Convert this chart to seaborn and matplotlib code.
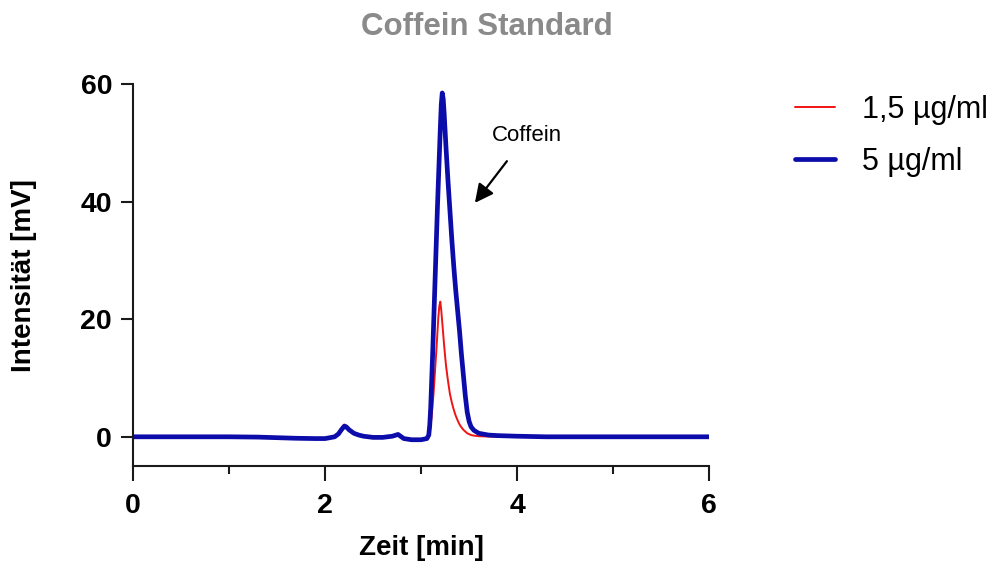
import matplotlib
matplotlib.use("Agg")
import matplotlib.pyplot as plt
import seaborn as sns
import pandas as pd

# Retention time grid [min]
zeit = [0.0, 0.5, 1.0, 1.3, 1.5, 1.7, 1.9, 2.0, 2.1, 2.14, 2.17, 2.2, 2.22, 2.25, 2.3,
        2.35, 2.4, 2.5, 2.6, 2.7, 2.76, 2.82, 2.9, 3.0, 3.06,
        3.08, 3.09, 3.1, 3.11, 3.12, 3.13, 3.14, 3.15, 3.16, 3.17, 3.18, 3.19, 3.2,
        3.21, 3.22, 3.23, 3.24, 3.25, 3.26,
        3.28, 3.3, 3.32, 3.34, 3.36, 3.38, 3.4, 3.42, 3.44, 3.46, 3.48, 3.5, 3.52,
        3.55, 3.6,
        3.7, 3.8, 4.0, 4.3, 5.0, 6.0]

# 1,5 µg/ml signal [mV]
int_15 = [0.0, 0.0, 0.0, -0.05, -0.15, -0.25, -0.3, -0.3, 0.0, 0.6, 1.4, 2.1, 1.9, 1.4, 0.7,
          0.3, 0.1, -0.1, -0.1, 0.1, 0.5, -0.3, -0.5, -0.5, -0.3,
          0.2, 0.8, 2.0, 3.5, 5.5, 7.5, 10.0, 12.5, 15.0, 17.8, 20.5, 22.3, 23.0,
          21.5, 19.5, 17.5, 15.5, 13.7, 12.0,
          9.5, 7.3, 5.8, 4.6, 3.6, 2.8, 2.1, 1.6, 1.2, 0.9, 0.6, 0.45, 0.3,
          0.2, 0.1,
          0.05, 0.0, 0.0, 0.0, 0.0, 0.0]

# 5 µg/ml signal [mV]
int_5 = [0.0, 0.0, 0.0, -0.05, -0.15, -0.25, -0.3, -0.3, 0.0, 0.5, 1.2, 1.8, 1.7, 1.2, 0.6,
         0.3, 0.1, -0.1, -0.1, 0.1, 0.4, -0.3, -0.5, -0.5, -0.3,
         0.3, 2.0, 5.0, 9.5, 14.0, 19.0, 24.0, 29.0, 34.0, 39.0, 43.5, 48.0, 52.5,
         56.5, 58.5, 57.5, 55.0, 52.0, 49.0,
         43.5, 38.5, 33.5, 29.0, 25.0, 21.5, 18.0, 14.0, 10.5, 7.0, 4.2, 2.6, 1.7,
         1.1, 0.6,
         0.3, 0.2, 0.1, 0.0, 0.0, 0.0]

labels = ["1,5 µg/ml", "5 µg/ml"]
colors = ["#F01414", "#0C0CAA"]
widths = [1.4, 3.4]

df = pd.concat([
    pd.DataFrame({"Zeit": zeit, "Int": int_15, "Konz": labels[0]}),
    pd.DataFrame({"Zeit": zeit, "Int": int_5, "Konz": labels[1]}),
])

sns.set_style("ticks")
plt.rcParams["font.family"] = ["Liberation Sans", "DejaVu Sans"]
plt.rcParams["text.color"] = "black"
plt.rcParams["axes.labelcolor"] = "black"
plt.rcParams["xtick.color"] = "black"
plt.rcParams["ytick.color"] = "black"

fig = plt.figure(figsize=(9.92, 5.61), dpi=100)
ax = fig.add_axes([0.134, 0.169, 0.581, 0.681])

for lab, col, lw in zip(labels, colors, widths):
    sns.lineplot(data=df[df["Konz"] == lab], x="Zeit", y="Int", color=col,
                 linewidth=lw, ax=ax, label=lab, legend=False, sort=False)

ax.set_xlim(0, 6)
ax.set_ylim(-5, 60)
ax.set_xticks([0, 2, 4, 6])
ax.set_xticks([1, 3, 5], minor=True)
ax.set_yticks([0, 20, 40, 60])
sns.despine(ax=ax)
for s in ["left", "bottom"]:
    ax.spines[s].set_linewidth(1.5)
    ax.spines[s].set_color("#1a1a1a")
ax.tick_params(axis="both", which="major", width=1.5, labelsize=20.5, color="#1a1a1a")
ax.tick_params(axis="x", which="major", length=11, pad=8)
ax.tick_params(axis="y", which="major", length=9, pad=6)
ax.tick_params(axis="x", which="minor", length=6, width=1.5, color="#1a1a1a")
for t in ax.get_xticklabels() + ax.get_yticklabels():
    t.set_fontweight("bold")

ax.set_xlabel("Zeit [min]", fontsize=20, fontweight="bold", labelpad=12)
ax.set_ylabel("Intensität [mV]", fontsize=20, fontweight="bold", labelpad=31)

fig.text(0.491, 0.952, "Coffein Standard", ha="center", va="center",
         fontsize=22.5, fontweight="bold", color="#8a8a8a")

ax.annotate("Coffein", xy=(3.56, 39.8), xytext=(4.10, 51.3),
            ha="center", va="center", fontsize=16,
            arrowprops=dict(arrowstyle="-|>", color="black", lw=1.6,
                            mutation_scale=28, shrinkA=11, shrinkB=0))

handles, labs = ax.get_legend_handles_labels()
fig.legend(handles, labs, loc="upper left", bbox_to_anchor=(0.789, 0.853),
           borderaxespad=0, frameon=False, fontsize=22, handlelength=1.3,
           handletextpad=0.9, labelspacing=0.72)

fig.savefig("out.png", dpi=100)
